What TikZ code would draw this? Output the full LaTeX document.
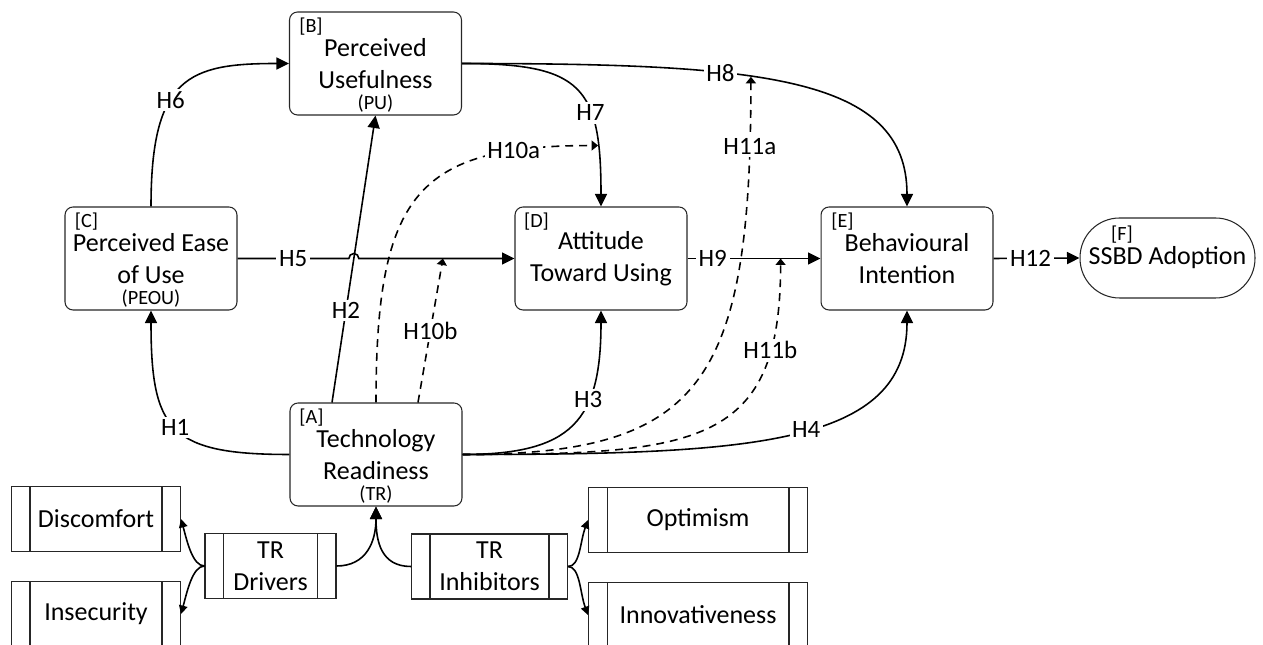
\documentclass[tikz,border=0pt]{standalone}
\usepackage{fontspec}
\setmainfont{Carlito}
\usetikzlibrary{positioning,arrows.meta,calc}

\newcommand{\boxfont}{\fontsize{14.8}{18.2}\selectfont}
\newcommand{\tagfont}{\fontsize{11.5}{13}\selectfont}
\newcommand{\hypfont}{\fontsize{14.2}{16}\selectfont}

\begin{document}
\begin{tikzpicture}[x=0.02cm, y=0.02cm,
    construct/.style={draw=black!85, line width=0.6pt, rounded corners=0.16cm,
        minimum width=3.44cm, minimum height=2.06cm, align=center, font=\boxfont},
    adopt/.style={draw=black!85, line width=0.6pt, rounded corners=0.79cm,
        minimum width=3.5cm, minimum height=1.6cm, font=\boxfont},
    procbox/.style={draw=black!85, line width=0.6pt, minimum height=1.3cm,
        align=center, font=\boxfont,
        path picture={
            \draw[black!85, line width=0.6pt]
                ([xshift=0.37cm]path picture bounding box.north west) -- ([xshift=0.37cm]path picture bounding box.south west)
                ([xshift=-0.37cm]path picture bounding box.north east) -- ([xshift=-0.37cm]path picture bounding box.south east);
        }},
    tag/.style={font=\tagfont, inner sep=0pt},
    hyp/.style={fill=white, font=\hypfont, inner sep=1.5pt},
    link/.style={line width=0.9pt, -{Triangle[length=0.25cm, width=0.24cm]}},
    modlink/.style={line width=0.9pt, dash pattern=on 4.5pt off 3.4pt, -{Triangle[length=0.13cm, width=0.2cm]}},
    drvlink/.style={line width=0.9pt, -{Triangle[length=0.17cm, width=0.17cm]}}]

    \useasboundingbox (0,0) rectangle (1263,645);

    % TAM constructs
    \node[construct] (TR) at (376,190.5) {Technology\\Readiness};
    \node[construct] (PU) at (375.5,581.5) {Perceived\\Usefulness};
    \node[construct] (PEOU) at (151,386.5) {Perceived Ease\\of Use};
    \node[construct] (ATU) at (601,386.5) {Attitude\\Toward Using};
    \node[construct] (BI) at (907,386.5) {Behavioural\\Intention};
    \node[adopt] (SSBD) at (1167.5,387) {SSBD Adoption};

    % Letters and short names
    \foreach \n/\t in {TR/A,PU/B,PEOU/C,ATU/D,BI/E}
        \node[tag] (tag\t) at ([shift={(22,-15)}]\n.north west) {[\t]};
    \node[tag] (tagF) at ([shift={(-45.5,23)}]SSBD.center) {[F]};
    \foreach \n in {TR,PU,PEOU}
        \node[tag] (sub\n) at ([shift={(0,12)}]\n.south) {(\n)};

    % TR dimensions
    \node[procbox, minimum width=2.62cm] (drv) at (270.5,79) {TR\\Drivers};
    \node[procbox, minimum width=3.12cm] (inh) at (489.5,78.5) {TR\\Inhibitors};
    \node[procbox, minimum width=3.38cm] (dis) at (96,126) {Discomfort};
    \node[procbox, minimum width=3.38cm, below=0.58cm of dis] (ins) {Insecurity};
    \node[procbox, minimum width=4.38cm] (opt) at (698,125) {Optimism};
    \node[procbox, minimum width=4.38cm, below=0.58cm of opt] (inn) {Innovativeness};

    % Hypotheses
    \draw[link] (TR.west) .. controls +(-120,0) and +(0,-120) .. (PEOU.south) node[hyp, pos=0.5] {H1};
    \coordinate (h2a) at ([xshift=-0.88cm]TR.north);
    \draw[link] (h2a) -- node[hyp, pos=0.32] {H2} (PU.south);
    \draw[link] (TR.east) .. controls +(110,0) and +(0,-110) .. (ATU.south) node[hyp, pos=0.65] {H3};
    \draw[link] (TR.east) .. controls +(289,0) and +(0,-135) .. (BI.south) node[hyp, pos=0.53] {H4};
    % H5 jumps over H2
    \path (h2a) -- (PU.south) coordinate[pos=0.502] (jx);
    \coordinate (jmp) at (jx |- PEOU.east);
    \draw[link] (PEOU.east) -- node[hyp] {H5} ([xshift=-0.1cm]jmp)
        arc[start angle=180, end angle=0, radius=0.1cm] -- (ATU.west) coordinate[pos=0.54] (m10b);
    \draw[link] (PEOU.north) .. controls +(0,130) and +(-100,0) .. (PU.west) node[hyp, pos=0.4] {H6};
    \draw[link] (PU.east) .. controls +(120,0) and +(0,120) .. (ATU.north) node[hyp, pos=0.65] {H7}
        coordinate[pos=0.8] (m10a);
    \draw[link] (PU.east) .. controls +(300,0) and +(0,130) .. (BI.north) node[hyp, pos=0.35] {H8}
        coordinate[pos=0.405] (m11a);
    \draw[link] (ATU.east) -- node[hyp, pos=0.19] {H9} (BI.west) coordinate[pos=0.7] (m11b);
    \draw[link] (BI.east) -- node[hyp, pos=0.43] {H12} (SSBD.west);

    % Moderating effects of TR
    \draw[modlink] (TR.north) .. controls +(0,210) and +(-180,0) .. (m10a) node[hyp, pos=0.82] {H10a};
    \draw[modlink] ([xshift=0.84cm]TR.north) -- node[hyp] {H10b} (m10b);
    \draw[modlink] (TR.east) .. controls +(238,0) and +(0,-309) .. (m11a) node[hyp, pos=0.92] {H11a};
    \draw[modlink] (TR.east) .. controls +(238,0) and +(0,-186) .. (m11b) node[hyp, pos=0.8] {H11b};

    % Drivers and inhibitors
    \draw[link] (drv.east) .. controls +(30,0) and +(0,-35) .. (TR.south);
    \draw[link] (inh.west) .. controls +(-30,0) and +(0,-35) .. (TR.south);
    \draw[drvlink] (drv.west) .. controls +(-12,0) and +(6,-22) .. (dis.east);
    \draw[drvlink] (drv.west) .. controls +(-12,0) and +(6,22) .. (ins.east);
    \draw[drvlink] (inh.east) .. controls +(12,0) and +(-8,-22) .. (opt.west);
    \draw[drvlink] (inh.east) .. controls +(12,0) and +(-8,22) .. (inn.west);

\end{tikzpicture}
\end{document}
